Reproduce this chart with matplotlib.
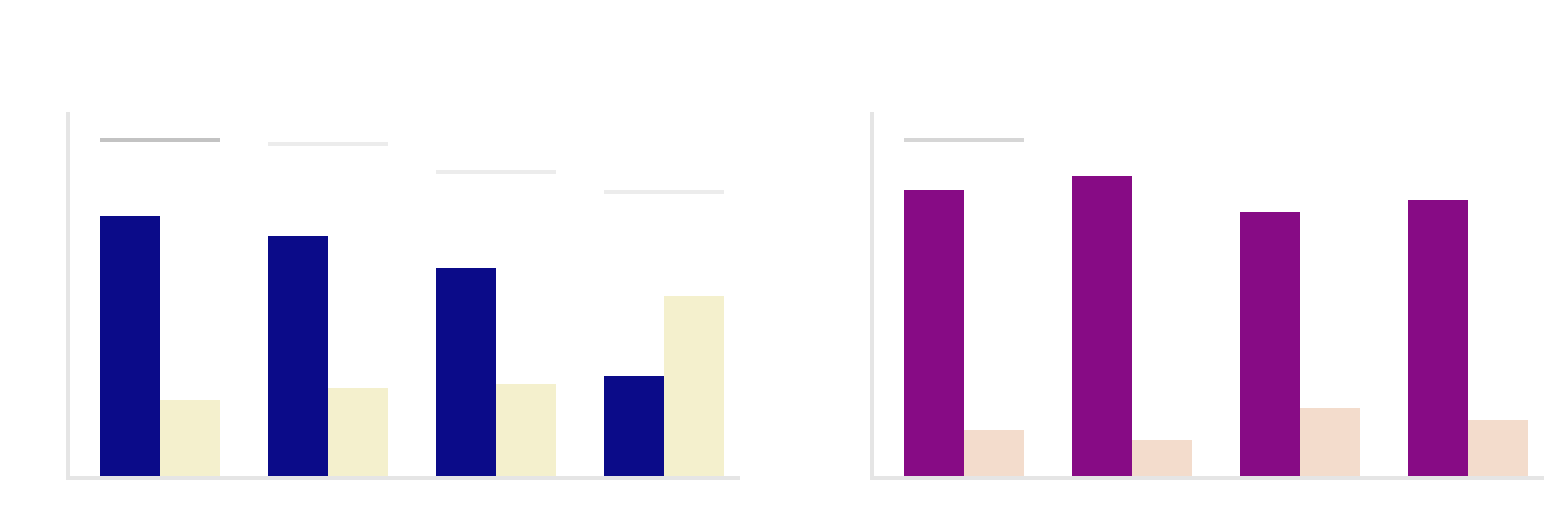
import matplotlib
matplotlib.use("Agg")
import matplotlib.pyplot as plt
import numpy as np

# ---- data ----
groups = [0, 1, 2, 3]
left_a = [72.0, 66.5, 57.7, 28.0]
left_b = [21.4, 24.7, 25.8, 50.0]
left_ref = [92.9, 91.8, 84.1, 78.6]
left_ref_colors = ["#c3c3c3", "#ececec", "#ececec", "#ececec"]

right_a = [79.1, 83.0, 73.1, 76.4]
right_b = [13.2, 10.4, 19.2, 15.9]
right_ref = [92.9]
right_ref_colors = ["#d6d6d6"]

W, H = 1544, 526
fig = plt.figure(figsize=(W / 100, H / 100), dpi=100)

spine_lw = 4 * 72 / 100
bw = 60 / 168
xlim = ((68 - 160) / 168, (738 - 160) / 168)


def panel(left_px, a, b, refs, ref_colors, ca, cb):
    ax = fig.add_axes([left_px / W, 48 / H, 670 / W, 364 / H])
    x = np.array(groups[:len(a)], dtype=float)
    ax.bar(x - bw / 2, a, width=bw, color=ca, linewidth=0)
    ax.bar(x + bw / 2, b, width=bw, color=cb, linewidth=0)
    for i, (r, c) in enumerate(zip(refs, ref_colors)):
        ax.hlines(r, groups[i] - bw, groups[i] + bw, colors=c, linewidth=spine_lw)
    ax.set_xlim(*xlim)
    ax.set_ylim(0, 100)
    for s in ["top", "right"]:
        ax.spines[s].set_visible(False)
    for s in ["left", "bottom"]:
        ax.spines[s].set_color("#e5e5e5")
        ax.spines[s].set_linewidth(spine_lw)
    ax.set_xticks([])
    ax.set_yticks([])
    ax.patch.set_alpha(0)
    return ax


panel(68, left_a, left_b, left_ref, left_ref_colors, "#0b0b89", "#f4f0cd")
panel(872, right_a, right_b, right_ref, right_ref_colors, "#870b85", "#f3dccc")

fig.savefig("out.png", dpi=100)
